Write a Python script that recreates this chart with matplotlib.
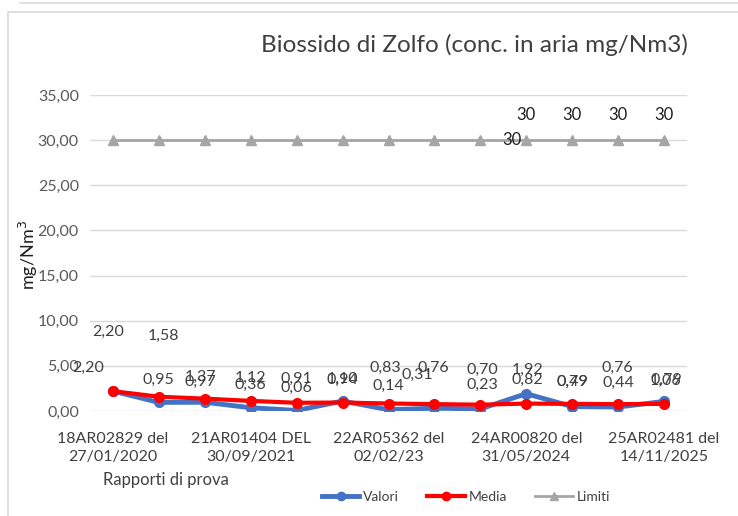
import matplotlib
matplotlib.use("Agg")
import matplotlib.pyplot as plt
from matplotlib.lines import Line2D
from matplotlib.patches import Rectangle

plt.rcParams['font.family'] = ['Lato', 'DejaVu Sans']

# ---- data ----
categories = ["18AR02829 del\n27/01/2020", "", "", "21AR01404 DEL\n30/09/2021", "", "",
              "22AR05362 del\n02/02/23", "", "", "24AR00820 del\n31/05/2024", "", "",
              "25AR02481 del\n14/11/2025"]
valori = [2.20, 0.95, 0.97, 0.36, 0.06, 1.10, 0.14, 0.31, 0.23, 1.92, 0.49, 0.44, 1.06]
media = [2.20, 1.58, 1.37, 1.12, 0.91, 0.94, 0.83, 0.76, 0.70, 0.82, 0.79, 0.76, 0.79]
limiti = [30, 30, 30, 30, 30, 30, 30, 30, 30, 30, 30, 30, 30]
y_ticks = [0, 5, 10, 15, 20, 25, 30, 35]

# label offsets (pixels) -- styling only
media_off = [(-5, 59), (5, 61), (-4, 22), (0, 23), (0, 24), (0, 23), (-3, 36),
             (-1, 36), (2, 35), (1, 24), (0, 22), (-1, 36), (2, 24)]
valori_off = [(-25, 23), (-1, 23), (-4, 20), (0, 23), (0, 23), (0, 22), (0, 24),
              (-17, 33), (2, 24), (1, 24), (0, 25), (0, 24), (2, 21)]
limiti_off = [None, None, None, None, None, None, None, None, (32, 0),
              (0, 25), (0, 25), (0, 25), (0, 25)]

def fmt(v):
    return f"{v:.2f}".replace(".", ",")

W, H = 738, 516
fig = plt.figure(figsize=(W / 100, H / 100), dpi=100)
fig.patch.set_facecolor("white")

# outer chart frame
fig.add_artist(Rectangle((8 / W, -0.01), 1.2, (516 - 12) / H + 0.01, transform=fig.transFigure,
                         fill=False, edgecolor="#D9D9D9", linewidth=1.2))
fig.add_artist(Line2D([20 / W, 1.0], [1 - 3 / H, 1 - 3 / H], transform=fig.transFigure,
                      color="#D9D9D9", linewidth=1.2))

ax = fig.add_axes([90 / W, (516 - 411) / H, (687 - 90) / W, (411 - 95) / H])
x = list(range(len(categories)))

ax.plot(x, limiti, color="#A5A5A5", linewidth=2, marker="^", markersize=7, zorder=2)
ax.plot(x, valori, color="#4472C4", linewidth=3.5, marker="o", markersize=7, zorder=3)
ax.plot(x, media, color="#FF0000", linewidth=3.0, marker="o", markersize=7, zorder=4)

ax.set_xlim(-0.5, len(categories) - 0.5)
ax.set_ylim(0, 35)
ax.set_yticks(y_ticks)
ax.set_yticklabels([fmt(v) for v in y_ticks], fontsize=11.5, color="#595959")
ax.set_xticks(x)
ax.set_xticklabels(categories, fontsize=11.5, color="#404040", linespacing=1.35)
ax.tick_params(axis="both", length=0)
ax.tick_params(axis="x", pad=15)
ax.tick_params(axis="y", pad=8)
for s in ax.spines.values():
    s.set_visible(False)
ax.grid(axis="y", color="#D9D9D9", linewidth=1)
ax.set_axisbelow(True)

lab_kw = dict(textcoords="offset pixels", ha="center", va="center", fontsize=11.5, color="#404040")
for i, v in enumerate(valori):
    ax.annotate(fmt(v), (i, v), xytext=valori_off[i], zorder=6, **lab_kw)
for i, v in enumerate(media):
    ax.annotate(fmt(v), (i, v), xytext=media_off[i], zorder=6, **lab_kw)
for i, v in enumerate(limiti):
    if limiti_off[i] is not None:
        ax.annotate(f"{v:g}", (i, v), xytext=limiti_off[i], zorder=6,
                    **{**lab_kw, "color": "#202020", "fontsize": 12})

fig.text(474 / W, 1 - 45 / H, "Biossido di Zolfo (conc. in aria mg/Nm3)", ha="center", va="center",
         fontsize=17.5, color="#404040")
fig.text(28 / W, 1 - 255 / H, "mg/Nm$^3$", rotation=90, ha="center", va="center",
         fontsize=13, color="#202020")
fig.text(166 / W, 1 - 480 / H, "Rapporti di prova", ha="center", va="center",
         fontsize=12, color="#404040")

handles = [Line2D([], [], color="#4472C4", linewidth=3.5, marker="o", markersize=6),
           Line2D([], [], color="#FF0000", linewidth=3.0, marker="o", markersize=6),
           Line2D([], [], color="#A5A5A5", linewidth=2, marker="^", markersize=6)]
fig.legend(handles, ["Valori", "Media", "Limiti"], loc="center", bbox_to_anchor=(466 / W, 1 - 497 / H),
           ncol=3, frameon=False, fontsize=10, handlelength=2.7, handletextpad=0.3, columnspacing=2.0,
           labelcolor="#404040")

fig.savefig("out.png", dpi=100)
